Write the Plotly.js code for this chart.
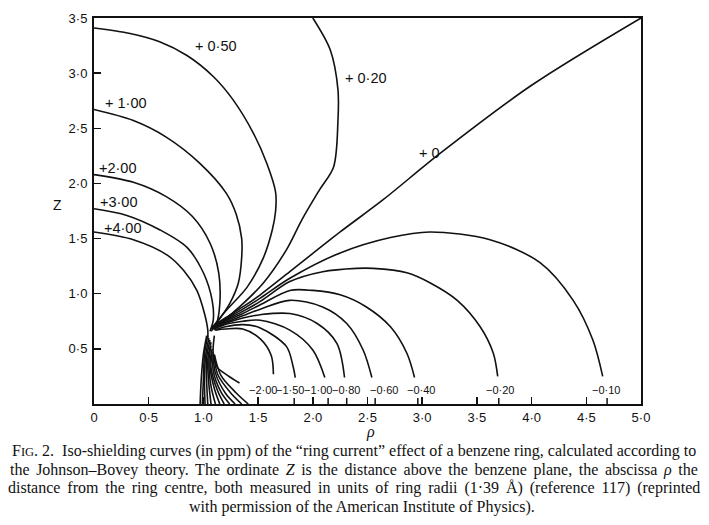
<!DOCTYPE html>
<html>
<head>
<meta charset="utf-8">
<script src="https://cdn.plot.ly/plotly-3.0.1.min.js"></script>
<style>html,body{margin:0;padding:0;background:#fff}#chart{width:709px;height:525px}</style>
</head>
<body>
<div id="chart"></div>
<script>
// ---- data (rho, Z) ----
const levelNames = ['+4·00','+3·00','+2·00','+1·00','+0·50','+0·20','0','−0·10','−0·20','−0·40','−0·60','−0·80','−1·00','−1·50','−2·00'];

const curve_p400 = [[0,1.56],[0.36,1.49],[0.67,1.35],[0.82,1.21],[0.94,1.03],[1.01,0.82],[1.04,0.67],[1.04,0.60]];
const curve_p300 = [[0,1.77],[0.30,1.71],[0.60,1.58],[0.85,1.42],[1.0,1.19],[1.08,0.94],[1.09,0.76],[1.06,0.66]];
const curve_p200 = [[0,2.08],[0.36,2.01],[0.66,1.88],[0.90,1.70],[1.06,1.46],[1.14,1.19],[1.15,0.91],[1.12,0.73],[1.07,0.66]];
const curve_p100 = [[0,2.67],[0.36,2.57],[0.66,2.42],[0.97,2.18],[1.21,1.91],[1.30,1.72],[1.35,1.50],[1.35,1.33],[1.32,1.10],[1.24,0.91],[1.14,0.76],[1.08,0.68]];
const curve_p050 = [[0,3.41],[0.33,3.36],[0.60,3.285],[0.85,3.16],[1.09,2.97],[1.27,2.76],[1.46,2.45],[1.58,2.18],[1.66,1.92],[1.66,1.75],[1.63,1.58],[1.55,1.33],[1.40,1.06],[1.21,0.85],[1.11,0.73],[1.07,0.68]];
const curve_p020 = [[2.0,3.5],[2.16,3.21],[2.23,2.85],[2.23,2.57],[2.19,2.15],[2.06,1.94],[1.90,1.67],[1.76,1.40],[1.55,1.10],[1.33,0.88],[1.15,0.73],[1.08,0.68]];
const curve_0    = [[1.08,0.70],[1.2,0.78],[1.36,0.88],[1.52,0.99],[1.79,1.20],[2.25,1.56],[2.64,1.85],[3.16,2.27],[4.0,2.89],[5.0,3.5]];
const curve_m010 = [[1.09,0.70],[1.2,0.77],[1.36,0.86],[1.52,0.96],[1.79,1.14],[2.25,1.37],[2.71,1.51],[3.07,1.56],[3.62,1.49],[4.08,1.28],[4.38,0.94],[4.56,0.58],[4.65,0.25]];
const curve_m020 = [[1.09,0.70],[1.2,0.76],[1.36,0.84],[1.52,0.93],[1.79,1.11],[2.09,1.20],[2.40,1.23],[2.55,1.23],[2.86,1.19],[3.07,1.10],[3.32,0.94],[3.53,0.70],[3.65,0.46],[3.69,0.25]];
const curve_m040 = [[1.09,0.69],[1.2,0.75],[1.36,0.82],[1.52,0.90],[1.79,1.03],[2.0,1.03],[2.25,0.99],[2.49,0.88],[2.71,0.70],[2.86,0.46],[2.93,0.24]];
const curve_m060 = [[1.09,0.69],[1.2,0.74],[1.36,0.80],[1.52,0.86],[1.79,0.94],[2.09,0.88],[2.31,0.73],[2.46,0.49],[2.54,0.24]];
const curve_m080 = [[1.09,0.68],[1.2,0.73],[1.36,0.78],[1.52,0.81],[1.79,0.82],[2.04,0.73],[2.22,0.55],[2.29,0.24]];
const curve_m100 = [[1.10,0.68],[1.2,0.72],[1.36,0.75],[1.52,0.76],[1.79,0.67],[2.0,0.49],[2.11,0.24]];
const curve_m150 = [[1.10,0.67],[1.2,0.70],[1.36,0.72],[1.52,0.69],[1.76,0.52],[1.82,0.34],[1.84,0.24]];
const curve_m200 = [[1.11,0.67],[1.2,0.68],[1.36,0.68],[1.52,0.59],[1.62,0.44],[1.64,0.27]];
const curve_m200_inner = [[1.10,0.62],[1.09,0.45],[1.13,0.33],[1.22,0.26],[1.33,0.19]];

// lower bundle between the ring-current knot and the benzene plane
const lower_1  = [[1.03,0.62],[1.0,0.45],[0.98,0.22],[0.97,0]];
const lower_2  = [[1.04,0.62],[1.01,0.45],[1.0,0.22],[0.99,0]];
const lower_3  = [[1.05,0.60],[1.02,0.43],[1.01,0.20],[1.015,0]];
const lower_4  = [[1.06,0.58],[1.03,0.42],[1.03,0.20],[1.04,0]];
const lower_5  = [[1.07,0.56],[1.04,0.40],[1.05,0.18],[1.07,0]];
const lower_6  = [[1.07,0.53],[1.05,0.38],[1.07,0.16],[1.11,0]];
const lower_7  = [[1.08,0.50],[1.06,0.35],[1.10,0.14],[1.15,0]];
const lower_8  = [[1.08,0.47],[1.07,0.33],[1.13,0.12],[1.19,0]];
const lower_9  = [[1.09,0.45],[1.09,0.30],[1.16,0.11],[1.24,0]];
const lower_10 = [[1.09,0.44],[1.11,0.28],[1.20,0.10],[1.29,0]];
const lower_11 = [[1.10,0.44],[1.13,0.27],[1.25,0.10],[1.35,0]];
const lower_12 = [[1.10,0.45],[1.16,0.26],[1.30,0.10],[1.41,0]];

// intercept marks on the rho axis
const interceptRho = [1.83, 2.14, 2.31, 2.57, 2.96, 3.70, 4.69];

// axis ticks
const xTickVals = [0,0.5,1,1.5,2,2.5,3,3.5,4,4.5,5];
const xTickText = ['0','0·5','1·0','1·5','2·0','2·5','3·0','3·5','4·0','4·5','5·0'];
const yTickVals = [0.5,1,1.5,2,2.5,3,3.5];
const yTickText = ['0·5','1·0','1·5','2·0','2·5','3·0','3·5'];

// ---- build traces ----
const allCurves = [curve_p400,curve_p300,curve_p200,curve_p100,curve_p050,curve_p020,curve_0,
  curve_m010,curve_m020,curve_m040,curve_m060,curve_m080,curve_m100,curve_m150,curve_m200,curve_m200_inner,
  lower_1,lower_2,lower_3,lower_4,lower_5,lower_6,lower_7,lower_8,lower_9,lower_10,lower_11,lower_12];

const traces = allCurves.map(c => ({
  type:'scatter', mode:'lines',
  x: c.map(p=>p[0]), y: c.map(p=>p[1]),
  line:{color:'#111', width:1.6, shape:'spline', smoothing:0.9},
  hoverinfo:'skip', showlegend:false, cliponaxis:true
}));

const ix = [], iy = [];
interceptRho.forEach(r => { ix.push(r, r, null); iy.push(0, 0.055, null); });
traces.push({type:'scatter', mode:'lines', x:ix, y:iy, line:{color:'#111', width:1.5}, hoverinfo:'skip', showlegend:false});

// ---- annotations ----
const sans = 'Liberation Sans, Arial, sans-serif';
const serif = 'Liberation Serif, Times New Roman, serif';
const ann = [];
function lab(text, x, y, anchor, size){
  ann.push({text:text, x:x, y:y, xref:'x', yref:'y', xanchor:anchor, yanchor:'middle', showarrow:false,
    font:{family:sans, size:size, color:'#111'}});
}
lab('+ 0·50', 0.905, 3.25, 'left', 14.5);
lab('+ 0·20', 2.28, 2.96, 'left', 14.5);
lab('+ 1·00', 0.08, 2.73, 'left', 14.5);
lab('+2·00', 0.03, 2.14, 'left', 14.5);
lab('+3·00', 0.04, 1.83, 'left', 14.5);
lab('+4·00', 0.07, 1.60, 'left', 14.5);
lab('+ 0', 2.95, 2.28, 'left', 14.5);
const negLabelRho = [1.545, 1.79, 2.05, 2.30, 2.65, 2.99, 3.71, 4.68];
const negLabelText = ['−2·00','−1·50','−1·00','−0·80','−0·60','−0·40','−0·20','−0·10'];
negLabelText.forEach((t,i)=>lab(t, negLabelRho[i], 0.127, 'center', 11));

// pixel -> paper helpers for text outside the plot
const L=94, R=641, T=18, B=404;
const px = v => (v-L)/(R-L);
const py = v => (B-v)/(B-T);
ann.push({text:'Z', x:px(57), y:py(205), xref:'paper', yref:'paper', showarrow:false,
  xanchor:'center', yanchor:'middle', font:{family:sans, size:14, color:'#111'}});
ann.push({text:'<i>ρ</i>', x:px(370), y:py(432), xref:'paper', yref:'paper', showarrow:false,
  xanchor:'center', yanchor:'middle', font:{family:serif, size:16, color:'#111'}});

const captionLines = [
  'F<span style="font-size:12.5px">IG</span>. 2.  Iso-shielding curves (in ppm) of the “ring current” effect of a benzene ring, calculated according to',
  '<span style="word-spacing:2.6px">the Johnson–Bovey theory. The ordinate <i>Z</i> is the distance above the benzene plane, the abscissa <i>ρ</i> the</span>',
  '<span style="word-spacing:2.9px">distance from the ring centre, both measured in units of ring radii (1·39 Å) (reference 117) (reprinted</span>',
  'with permission of the American Institute of Physics).'
];
const capY = [451, 469.5, 488, 506.5];
const capX = [353.5, 354, 354, 362];
captionLines.forEach((t,i)=>ann.push({text:t, x:px(capX[i]), y:py(capY[i]), xref:'paper', yref:'paper',
  showarrow:false, xanchor:'center', yanchor:'middle', font:{family:serif, size:16, color:'#111'}}));

const axisCommon = {showline:true, linecolor:'#111', linewidth:2, mirror:true, showgrid:false, zeroline:false,
  ticks:'inside', ticklen:7, tickwidth:1.5, tickcolor:'#111', tickmode:'array', fixedrange:true,
  tickfont:{family:sans, size:13, color:'#111'}};

const layout = {
  width:709, height:525,
  margin:{l:L, r:709-R, t:T, b:525-B},
  paper_bgcolor:'#fff', plot_bgcolor:'#fff',
  xaxis: Object.assign({}, axisCommon, {range:[0,5], tickvals:xTickVals, ticktext:xTickText}),
  yaxis: Object.assign({}, axisCommon, {range:[0,3.5], tickvals:yTickVals, ticktext:yTickText, ticklabelstandoff:2}),
  annotations: ann,
  showlegend:false, hovermode:false
};

Plotly.newPlot('chart', traces, layout, {staticPlot:true, displayModeBar:false});
</script>
</body>
</html>
